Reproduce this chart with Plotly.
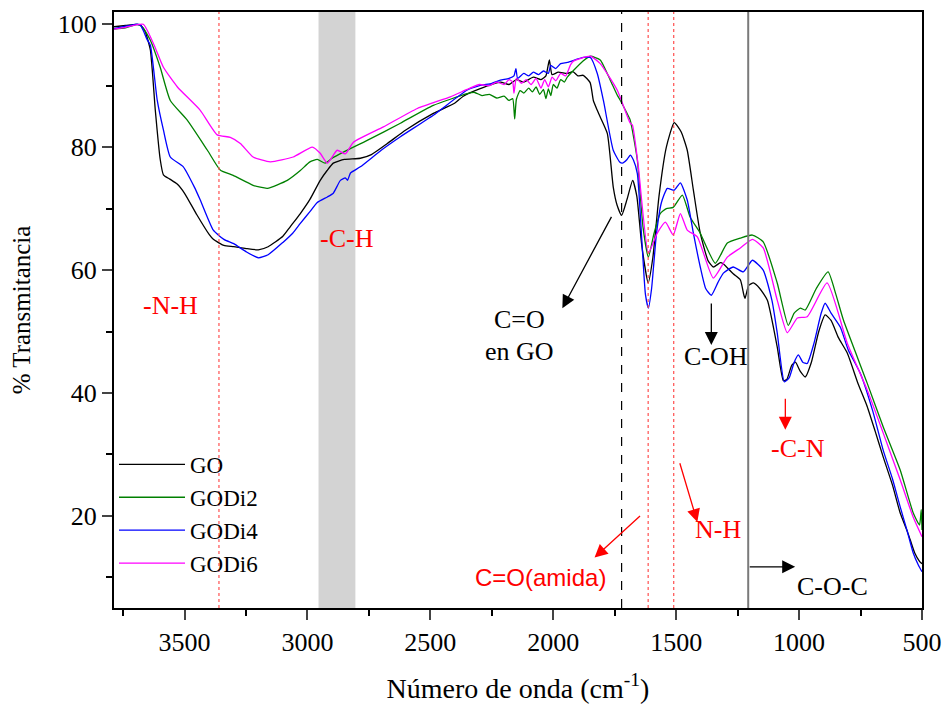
import plotly.graph_objects as go

# FTIR spectra: wavenumber (cm-1) and % transmittance for each sample
go_wn = [3787, 3740, 3700, 3680, 3660, 3639, 3619, 3599, 3586, 3560, 3530, 3500, 3450, 3400, 3383,
         3340, 3300, 3250, 3200, 3160, 3100, 3071, 3029, 2990, 2948, 2920, 2895, 2850, 2785, 2740,
         2675, 2600, 2488, 2400, 2366, 2300, 2215, 2180, 2150, 2120, 2081, 2050, 2030, 2016, 2005,
         1980, 1943, 1920, 1900, 1878, 1850, 1837, 1821, 1809, 1780, 1756, 1740, 1722, 1700, 1677,
         1660, 1640, 1614, 1595, 1570, 1540, 1508, 1480, 1455, 1430, 1402, 1370, 1349, 1320, 1308,
         1268, 1239, 1225, 1220, 1205, 1186, 1160, 1129, 1089, 1064, 1050, 1030, 1015, 995, 975,
         950, 920, 894, 870, 840, 804, 760, 723, 690, 658, 620, 589, 560, 548, 530, 510, 500]
go_t = [99.6, 99.8, 100, 99.9, 98.8, 95.8, 86, 78, 75.5, 74.8, 74.0, 72.5, 69, 65.8, 65,
        64, 63.8, 63.5, 63.3, 63.8, 65.5, 67, 69.2, 71.5, 74.6, 76.2, 77.4, 78.0, 78.2, 78.8,
        80.6, 82.8, 85.5, 87.2, 88.3, 89.5, 90.6, 90.2, 91.0, 90.6, 91.4, 91.0, 91.6, 94.2, 91.8,
        92.2, 92.0, 92.3, 91.6, 91.7, 90.5, 87.6, 86, 84.9, 82.2, 73.5, 70.5, 68.9, 71.5, 74.6,
        72, 64, 57.9, 62, 72, 80, 84, 82.5, 79.5, 73, 66, 61.5, 60.5, 61.2, 61,
        59.4, 58.4, 56, 55.4, 57.5, 57.9, 57, 55.1, 47.5, 42, 42.2, 44.5, 45, 43.5, 42.6,
        45, 50, 52.7, 51.8, 49, 46.5, 41.5, 37.8, 33.7, 29.6, 25, 20.5, 17.5, 16.1, 14, 12.6, 12.2]

godi2_wn = [3787, 3740, 3692, 3670, 3639, 3599, 3558, 3489, 3407, 3355, 3302, 3221, 3163, 3082,
            3029, 2990, 2960, 2928, 2900, 2854, 2757, 2622, 2488, 2350, 2320, 2290, 2260, 2230,
            2200, 2180, 2165, 2157, 2150, 2135, 2120, 2100, 2085, 2070, 2055, 2040, 2030, 2020,
            2010, 2000, 1985, 1970, 1955, 1943, 1920, 1880, 1849, 1809, 1768, 1740, 1727, 1700,
            1687, 1658, 1635, 1613, 1590, 1565, 1540, 1512, 1475, 1443, 1402, 1341, 1292, 1239,
            1190, 1146, 1089, 1044, 1020, 995, 975, 930, 882, 850, 820, 723, 658, 589, 536,
            510, 503, 500]
godi2_t = [99.2, 99.4, 100, 99.5, 97.4, 93, 87.6, 84.4, 79.5, 76.3, 75.4, 73.8, 73.3, 74.6,
           76.2, 77.6, 78, 77.4, 78.2, 79.2, 81.1, 83.9, 86.8, 88.7, 88.9, 88.4, 88.6, 88.0,
           88.3, 87.6, 87.9, 84.6, 87.8, 89.2, 88.8, 89.6, 89.0, 89.8, 88.6, 89.4, 87.9, 89.5,
           88.4, 90.2, 89.6, 91.0, 90.6, 91.4, 92.4, 94, 94.8, 94.2, 90.9, 88.5, 87.6, 85.5,
           84.4, 77.9, 67, 62.1, 66, 69.2, 70.0, 70.2, 72.2, 68.6, 66, 61.1, 64.4, 65.2,
           65.7, 64.6, 57.9, 51, 53, 53.8, 53.5, 57, 59.7, 56, 51.9, 41.6, 34.5, 27.5, 20.5,
           18.5, 21, 17.7]

godi4_wn = [3787, 3740, 3700, 3680, 3668, 3652, 3639, 3611, 3586, 3558, 3505, 3460, 3436, 3383,
            3340, 3300, 3250, 3200, 3160, 3100, 3060, 3029, 2990, 2960, 2919, 2895, 2866, 2846,
            2837, 2825, 2785, 2700, 2622, 2488, 2350, 2300, 2250, 2215, 2180, 2160, 2152, 2145,
            2120, 2100, 2081, 2060, 2040, 2020, 2010, 1990, 1970, 1943, 1878, 1849, 1821, 1796,
            1756, 1730, 1719, 1700, 1687, 1674, 1658, 1640, 1625, 1613, 1600, 1580, 1560, 1536,
            1508, 1483, 1455, 1430, 1402, 1380, 1357, 1330, 1308, 1268, 1227, 1190, 1146, 1110,
            1089, 1060, 1040, 1020, 1003, 985, 967, 940, 910, 894, 870, 832, 800, 751, 700,
            658, 620, 589, 560, 536, 515, 500]
godi4_t = [99.3, 99.7, 100, 99.9, 99, 97.5, 96.6, 87.6, 82.8, 78.4, 76.8, 73.5, 71.4, 66.5,
           65, 64.3, 63, 62, 62.5, 64.5, 66, 67.6, 69.5, 71, 71.9, 72.5, 74.6, 75,
           74.6, 75.8, 76.8, 79.5, 81.7, 85.2, 89.3, 90.0, 90.4, 90.9, 91.2, 91.6, 92.8, 91.2,
           92.0, 91.6, 92.2, 91.8, 92.4, 92.0, 93.3, 92.8, 93.6, 93.8, 94.6, 94.6, 92, 87.6,
           79.5, 77.6, 77.4, 78.0, 78.7, 77.9, 75.7, 65, 56, 53.8, 57, 66, 71, 73.3,
           73, 74.2, 71.4, 66, 60.5, 57, 55.9, 58, 59.5, 60.5, 59.7, 61.6, 60, 55,
           49.8, 41.8, 42.5, 45, 46.2, 45, 44.8, 48, 53, 54.6, 53, 50.7, 47, 43.2, 37,
           30.7, 26, 21.5, 17.5, 14, 12, 10.9]

godi6_wn = [3787, 3740, 3668, 3627, 3586, 3529, 3436, 3367, 3314, 3273, 3221, 3151, 3058, 2980,
            2948, 2919, 2879, 2846, 2813, 2691, 2553, 2419, 2350, 2300, 2260, 2230, 2200, 2180,
            2165, 2160, 2150, 2130, 2110, 2090, 2070, 2050, 2035, 2020, 2005, 1990, 1970, 1950,
            1930, 1918, 1849, 1809, 1740, 1687, 1678, 1654, 1613, 1577, 1544, 1512, 1483, 1455,
            1414, 1349, 1292, 1239, 1190, 1146, 1089, 1048, 1007, 967, 886, 804, 723, 658, 589,
            536, 500]
godi6_t = [99.2, 99.5, 100, 96.9, 93, 89.8, 86, 82, 81.6, 80.6, 78.4, 77.6, 78.4, 80,
           79, 77.4, 79.5, 78.9, 80.8, 83.3, 86.3, 88.2, 89.4, 90.2, 90.0, 90.6, 90.2, 91.0,
           90.6, 88.8, 91.2, 90.4, 91.0, 90.2, 91.2, 89.6, 91.0, 89.8, 91.4, 90.8, 92.0, 91.6,
           93.4, 94.0, 94.8, 93.6, 89.3, 83.9, 83.6, 76.8, 62.8, 66, 67.8, 65.7, 69.2, 66.5,
           65.4, 58.7, 62.1, 63.6, 65, 63.6, 55.1, 49.8, 52.2, 52.4, 57.9, 48.1, 40.5, 33.5, 25.9,
           19.8, 16.6]

series = [
    ("GO", go_wn, go_t, "black"),
    ("GODi2", godi2_wn, godi2_t, "green"),
    ("GODi4", godi4_wn, godi4_t, "blue"),
    ("GODi6", godi6_wn, godi6_t, "magenta"),
]

x_ticks = [500, 1000, 1500, 2000, 2500, 3000, 3500]
y_ticks = [20, 40, 60, 80, 100]

# band positions marked on the spectra
red_dotted = [3360, 1614, 1510]
co_go_line = 1722
coc_line = 1207
ch_band = (2955, 2805)

serif = "Liberation Serif"

fig = go.Figure()
for name, wn, t, col in series:
    fig.add_trace(go.Scatter(x=wn, y=t, mode="lines", name=name,
                             line=dict(color=col, width=1.3, shape="spline", smoothing=0.5)))

shapes = [
    dict(type="rect", xref="x", yref="paper", x0=ch_band[0], x1=ch_band[1], y0=0, y1=1,
         fillcolor="#d3d3d3", line=dict(width=0), layer="below"),
    dict(type="line", xref="x", yref="paper", x0=co_go_line, x1=co_go_line, y0=0, y1=1,
         line=dict(color="black", width=1.2, dash="dash")),
    dict(type="line", xref="x", yref="paper", x0=coc_line, x1=coc_line, y0=0, y1=1,
         line=dict(color="#7a7a7a", width=2)),
]
for xv in red_dotted:
    shapes.append(dict(type="line", xref="x", yref="paper", x0=xv, x1=xv, y0=0, y1=1,
                       line=dict(color="#ff5050", width=1.2, dash="dot")))

ann = []
def label(x, y, text, color, size=26, family=serif):
    ann.append(dict(x=x, y=y, xref="x", yref="y", text=text, showarrow=False,
                    font=dict(family=family, size=size, color=color)))

def arrow(x0, y0, x1, y1, color):
    ann.append(dict(x=x1, y=y1, ax=x0, ay=y0, xref="x", yref="y", axref="x", ayref="y",
                    text="", showarrow=True, arrowhead=2, arrowsize=2.0, arrowwidth=1.3,
                    arrowcolor=color))

label(3557, 54.3, "-N-H", "red")
label(2838, 65.2, "-C-H", "red")
label(2138, 51.9, "C=O", "black")
label(2138, 46.7, "en GO", "black")
label(1337, 45.9, "C-OH", "black")
label(1003, 30.9, "-C-N", "red")
label(1329, 17.7, "N-H", "red")
label(2053, 9.9, "C=O(amida)", "red", size=24, family="Liberation Sans")
label(864, 8.5, "C-O-C", "black")

arrow(1760, 68.9, 1963, 53.8, "black")
arrow(1357, 54.8, 1357, 47.8, "black")
arrow(1056, 39.3, 1056, 34.0, "red")
arrow(1487, 28.8, 1414, 19.0, "red")
arrow(1641, 20.2, 1832, 13.2, "red")
arrow(1207, 11.7, 1016, 11.7, "black")

fig.update_layout(
    width=946, height=704,
    margin=dict(l=114, r=24, t=12, b=96),
    paper_bgcolor="white", plot_bgcolor="white",
    font=dict(family=serif, size=24, color="black"),
    shapes=shapes, annotations=ann,
    legend=dict(x=0.0, y=0.277, xanchor="left", yanchor="top", bgcolor="rgba(0,0,0,0)",
                font=dict(family=serif, size=23), itemwidth=66, tracegroupgap=0),
    showlegend=True,
)
fig.update_xaxes(range=[3787, 500], tickvals=x_ticks, ticks="outside", ticklen=10, tickwidth=2,
                 showline=True, linewidth=2, linecolor="black", mirror=True, showgrid=False,
                 zeroline=False, automargin=False, tickfont=dict(family=serif, size=26),
                 minor=dict(tickvals=[750, 1250, 1750, 2250, 2750, 3250, 3750], ticks="outside",
                            ticklen=6, tickwidth=2, tickcolor="black"),
                 title=dict(text="Número de onda (cm<sup>-1</sup>)", font=dict(family=serif, size=28),
                            standoff=22))
fig.update_yaxes(range=[5, 102], tickvals=y_ticks, ticks="outside", ticklen=10, tickwidth=2,
                 showline=True, linewidth=2, linecolor="black", mirror=True, showgrid=False,
                 zeroline=False, automargin=False, tickfont=dict(family=serif, size=26),
                 minor=dict(tickvals=[10, 30, 50, 70, 90], ticks="outside",
                            ticklen=6, tickwidth=2, tickcolor="black"),
                 title=dict(text="% Transmitancia", font=dict(family=serif, size=25), standoff=20))

fig.write_html("out.html")
